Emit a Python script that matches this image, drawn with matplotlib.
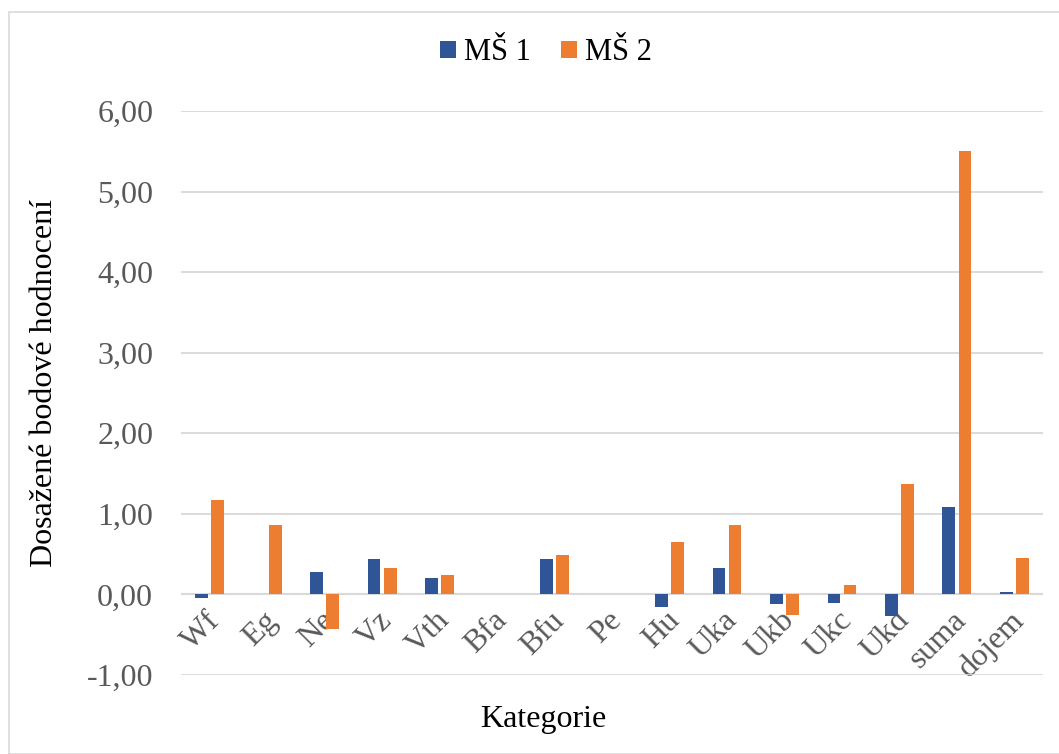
import numpy as np
import matplotlib.pyplot as plt
from matplotlib.patches import Rectangle
from matplotlib.ticker import FuncFormatter

categories = ['Wf', 'Eg', 'Ne', 'Vz', 'Vth', 'Bfa', 'Bfu', 'Pe', 'Hu', 'Uka',
              'Ukb', 'Ukc', 'Ukd', 'suma', 'dojem']
ms1 = [-0.04, 0.0, 0.28, 0.44, 0.21, 0.0, 0.44, 0.0, -0.16, 0.33,
       -0.12, -0.11, -0.27, 1.08, 0.03]
ms2 = [1.17, 0.86, -0.43, 0.33, 0.24, 0.0, 0.49, 0.0, 0.65, 0.86,
       -0.25, 0.12, 1.37, 5.50, 0.45]
series_names = ['MŠ 1', 'MŠ 2']

W, H = 1059, 754
FS = 23
plt.rcParams['font.family'] = ['Liberation Serif', 'DejaVu Serif']

fig = plt.figure(figsize=(W / 100, H / 100), dpi=100)
# chart border
fig.patches.append(Rectangle((9 / W, 0), 1.2, 1 - 12 / H, transform=fig.transFigure,
                             fill=False, edgecolor='#d9d9d9', linewidth=1.2))

ax = fig.add_axes([181 / W, 1 - 675 / H, (1043 - 181) / W, (675 - 111) / H])
x = np.arange(len(categories))
ax.bar(x - 0.14, ms1, width=0.22, color='#2F5597', label=series_names[0], zorder=3)
ax.bar(x + 0.14, ms2, width=0.22, color='#ED7D31', label=series_names[1], zorder=3)

ax.set_xlim(-0.5, len(categories) - 0.5)
ax.set_ylim(-1, 6)
ax.set_yticks(np.arange(-1, 7, 1))
ax.yaxis.set_major_formatter(FuncFormatter(lambda v, p: f'{v:.2f}'.replace('.', ',')))
ax.grid(axis='y', color='#d9d9d9', linewidth=1.3, zorder=0)
ax.axhline(0, color='#d9d9d9', linewidth=1.5, zorder=2)
for s in ax.spines.values():
    s.set_visible(False)
ax.tick_params(axis='both', length=0, labelsize=FS, labelcolor='#595959')
ax.tick_params(axis='y', pad=20)
ax.set_xticks(x)
ax.set_xticklabels([])
for xi, lab in zip(x, categories):
    ax.text(xi + 0.1, -0.27, lab, rotation=45, ha='right', va='center',
            rotation_mode='anchor', fontsize=FS, color='#595959', zorder=1)

fig.text(543 / W, 1 - 720 / H, 'Kategorie', ha='center', va='center', fontsize=FS)
fig.text(45 / W, 1 - 383 / H, 'Dosažené bodové hodnocení', rotation=90,
         ha='center', va='center', fontsize=FS)

fig.legend(loc='center', bbox_to_anchor=(546 / W, 1 - 53 / H), ncol=2, frameon=False,
           fontsize=22, handlelength=0.52, handleheight=0.5, handletextpad=0.25,
           columnspacing=1.0)

fig.savefig('out.png', dpi=100)
